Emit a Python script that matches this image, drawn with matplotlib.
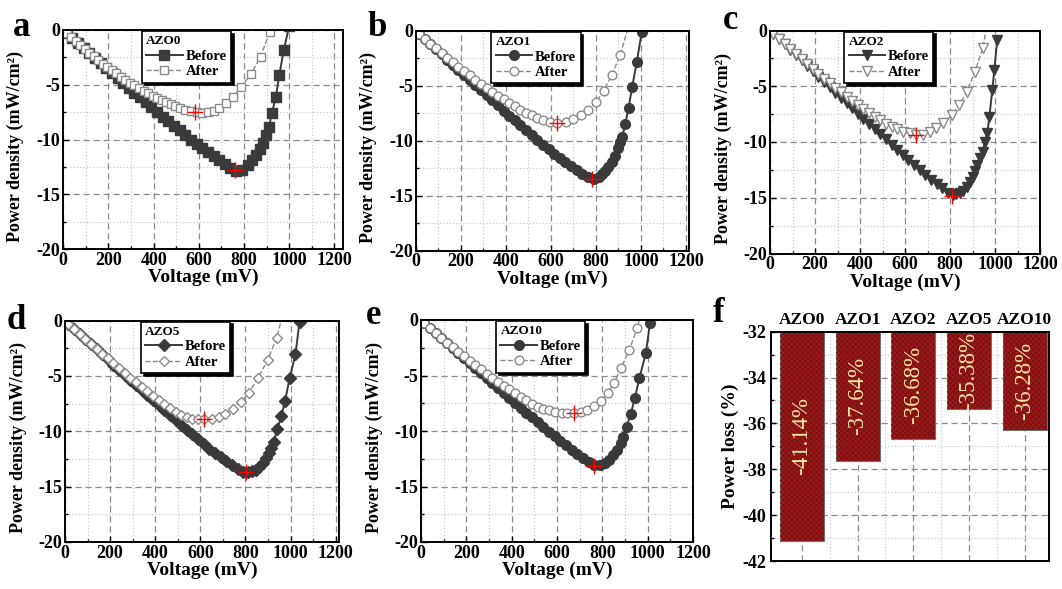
import numpy as np
import matplotlib.pyplot as plt
from matplotlib.ticker import MultipleLocator

plt.rcParams['font.family'] = ['Liberation Serif', 'DejaVu Serif']
plt.rcParams['font.weight'] = 'bold'
plt.rcParams['axes.labelweight'] = 'bold'
plt.rcParams['axes.unicode_minus'] = False
plt.rcParams['hatch.linewidth'] = 0.5

# voltage steps used for the dense part of the curves
v_dense = [15, 40, 65, 90, 115, 140, 165, 190, 215, 240, 265, 290, 315, 340, 365, 390,
           415, 440, 465, 490, 515, 540, 565, 590, 615, 640, 665, 690, 715, 740, 765, 790]

# a - AZO0
v_before_a = v_dense + [818, 837, 855, 870, 882, 897, 911, 923, 941, 956, 976, 1000]
p_before_a = [-0.27, -0.73, -1.18, -1.64, -2.09, -2.55, -3.00, -3.46, -3.91, -4.37,
              -4.82, -5.28, -5.72, -6.15, -6.60, -7.03, -7.47, -7.90, -8.32, -8.75,
              -9.17, -9.59, -10.00, -10.40, -10.79, -11.17, -11.54, -11.90, -12.24, -12.58,
              -12.85, -12.80,
              -12.33, -11.87, -11.40, -10.87, -10.35, -9.59, -8.83, -7.61, -6.09, -4.11, -1.83, 0.4]
v_after_a = [15, 35, 55, 75, 95, 115, 135, 155, 175, 195, 215, 235, 255, 275, 295, 315, 335,
             355, 375, 395, 415, 435, 455, 475, 495, 515, 540, 565, 590, 615, 640, 665, 690,
             719, 751, 788, 830, 873, 914]
p_after_a = [-0.28, -0.65, -1.03, -1.39, -1.74, -2.08, -2.42, -2.75, -3.07, -3.38,
             -3.68, -3.97, -4.25, -4.53, -4.80, -5.06, -5.31, -5.55, -5.79, -6.01,
             -6.22, -6.42, -6.61, -6.79, -6.95, -7.10,
             -7.27, -7.41, -7.50, -7.54, -7.50, -7.38, -7.12,
             -6.70, -6.09, -5.17, -4.05, -2.43, -0.15]

# b - AZO1
v_before_b = v_dense + [812, 826, 841, 856, 871, 886, 898, 908, 918, 930, 945, 961, 982, 1004]
p_before_b = [-0.28, -0.75, -1.22, -1.68, -2.15, -2.62, -3.09, -3.55, -4.02, -4.49,
              -4.96, -5.42, -5.88, -6.34, -6.80, -7.26, -7.71, -8.16, -8.60, -9.05,
              -9.49, -9.92, -10.35, -10.77, -11.18, -11.58, -11.97, -12.33, -12.67, -12.99,
              -13.31, -13.47,
              -13.32, -13.05, -12.80, -12.36, -11.90, -11.36, -10.70, -10.15, -9.64, -8.52,
              -7.06, -5.15, -2.82, -0.09]
v_after_b = v_dense[:23] + [597, 629, 668, 700, 733, 767, 801, 834, 871, 908, 945]
p_after_b = [-0.28, -0.73, -1.17, -1.60, -2.03, -2.44, -2.86, -3.26, -3.66, -4.05,
             -4.44, -4.82, -5.19, -5.55, -5.90, -6.24, -6.57, -6.88, -7.17, -7.45,
             -7.70, -7.93, -8.11,
             -8.30, -8.42, -8.27, -8.05, -7.66, -7.20, -6.50, -5.45, -4.03, -2.20, 0.4]

# c - AZO2
v_before_c = v_dense + [812, 828, 844, 859, 874, 889, 901, 911, 921, 933, 945, 956, 966, 975,
                        988, 997, 1010]
p_before_c = [-0.29, -0.77, -1.25, -1.73, -2.21, -2.69, -3.17, -3.65, -4.13, -4.61,
              -5.09, -5.57, -6.04, -6.51, -6.99, -7.46, -7.93, -8.39, -8.85, -9.31,
              -9.77, -10.23, -10.69, -11.15, -11.60, -12.05, -12.50, -12.94, -13.37, -13.78,
              -14.15, -14.54,
              -14.75, -14.70, -14.55, -14.37, -14.00, -13.56, -13.10, -12.60, -12.06, -11.47,
              -10.87, -9.97, -9.22, -7.73, -5.34, -3.54, -0.85]
v_after_c = v_dense[:23] + [592, 622, 649, 681, 709, 739, 770, 807, 842, 874, 911, 945, 965]
p_after_c = [-0.29, -0.76, -1.22, -1.68, -2.13, -2.57, -3.01, -3.45, -3.89, -4.31,
             -4.74, -5.15, -5.56, -5.96, -6.35, -6.72, -7.08, -7.42, -7.75, -8.06,
             -8.35, -8.62, -8.86,
             -9.07, -9.22, -9.33, -9.35, -9.13, -8.78, -8.33, -7.58, -6.68, -5.49, -3.69,
             -1.60, 0.5]

# d - AZO5
v_before_d = v_dense + [812, 828, 845, 862, 877, 892, 904, 914, 925, 942, 959, 976, 996, 1022, 1040]
p_before_d = [-0.28, -0.74, -1.20, -1.67, -2.13, -2.59, -3.05, -3.52, -3.98, -4.44,
              -4.90, -5.37, -5.82, -6.28, -6.73, -7.18, -7.63, -8.08, -8.52, -8.97,
              -9.41, -9.85, -10.28, -10.71, -11.14, -11.56, -11.96, -12.35, -12.73, -13.08,
              -13.40, -13.67,
              -13.70, -13.60, -13.48, -13.26, -12.87, -12.42, -11.97, -11.52, -10.98, -9.80,
              -8.66, -7.25, -5.21, -3.05, -0.10]
v_after_d = v_dense[:24] + [618, 652, 681, 711, 744, 781, 815, 855, 899, 939, 965]
p_after_d = [-0.28, -0.74, -1.20, -1.65, -2.10, -2.54, -2.98, -3.42, -3.85, -4.29,
             -4.72, -5.15, -5.57, -5.98, -6.39, -6.81, -7.20, -7.58, -7.93, -8.25,
             -8.52, -8.73, -8.85, -8.90,
             -8.90, -8.87, -8.75, -8.45, -8.00, -7.37, -6.56, -5.21, -3.56, -1.55, 0.5]

# e - AZO10
v_before_e = v_dense + [810, 831, 848, 866, 881, 893, 907, 925, 944, 963, 992, 1010]
p_before_e = [-0.27, -0.72, -1.18, -1.63, -2.08, -2.53, -2.99, -3.44, -3.89, -4.34,
              -4.80, -5.25, -5.70, -6.14, -6.58, -7.03, -7.47, -7.91, -8.35, -8.78,
              -9.21, -9.64, -10.06, -10.48, -10.90, -11.30, -11.70, -12.08, -12.44, -12.79,
              -13.10, -13.07,
              -12.85, -12.60, -12.16, -11.70, -11.10, -10.50, -9.60, -8.50, -7.00, -5.26,
              -3.00, -0.30]
v_after_e = v_dense[:23] + [593, 621, 645, 675, 704, 734, 763, 793, 823, 851, 882, 919, 954, 968]
p_after_e = [-0.27, -0.73, -1.17, -1.61, -2.04, -2.46, -2.87, -3.28, -3.68, -4.07,
             -4.45, -4.83, -5.20, -5.56, -5.91, -6.26, -6.60, -6.93, -7.24, -7.55,
             -7.80, -8.00, -8.15,
             -8.27, -8.35, -8.41, -8.41, -8.32, -8.11, -7.72, -7.30, -6.60, -5.70, -4.35,
             -2.70, -0.75, 0.5]

# maximum power points (red crosses), before / after
mpp_v_a, mpp_p_a = [759, 581], [-12.80, -7.52]
mpp_v_b, mpp_p_b = [782, 629], [-13.48, -8.42]
mpp_v_c, mpp_p_c = [807, 649], [-14.80, -9.35]
mpp_v_d, mpp_p_d = [803, 618], [-13.71, -8.87]
mpp_v_e, mpp_p_e = [763, 675], [-13.12, -8.41]

# f - power loss
samples = ['AZO0', 'AZO1', 'AZO2', 'AZO5', 'AZO10']
power_loss = [-41.14, -37.64, -36.68, -35.38, -36.28]

W, H = 1062, 589
fig = plt.figure(figsize=(W / 100, H / 100), dpi=100)


def box(l, t, r, b):
    return [l / W, 1 - b / H, (r - l) / W, (b - t) / H]


def grid_it(ax):
    ax.set_axisbelow(True)
    ax.grid(which='major', ls=(0, (5, 3)), color='#8a8a8a', lw=0.9)
    ax.grid(which='minor', ls=(0, (1, 2)), color='#c4c4c4', lw=0.8)
    for s in ax.spines.values():
        s.set_linewidth(1.4)


def panel(rect, xmax, vb, pb, va, pa, mk, msb, msa, name, mv, mp):
    ax = fig.add_axes(rect)
    grid_it(ax)
    ax.plot(vb, pb, '-', color='#3a3a3a', lw=1.4, marker=mk, ms=msb, mfc='#3a3a3a',
            mec='#3a3a3a', label='Before')
    ax.plot(va, pa, '--', color='#8a8a8a', lw=1.0, marker=mk, ms=msa, mfc='white',
            mec='#8a8a8a', mew=1.0, label='After')
    ax.plot(mv, mp, ls='none', marker='+', color='red', ms=12, mew=1.0)
    ax.set_xlim(0, xmax)
    ax.set_ylim(-20, 0)
    ax.set_xticks(range(0, 1201, 200))
    ax.xaxis.set_minor_locator(MultipleLocator(100))
    ax.yaxis.set_major_locator(MultipleLocator(5))
    ax.yaxis.set_minor_locator(MultipleLocator(2.5))
    ax.tick_params(which='both', direction='in', labelsize=13, width=1)
    ax.tick_params(which='major', length=4, pad=2)
    ax.tick_params(which='minor', length=2)
    ax.set_xlabel('Voltage (mV)', fontsize=14, labelpad=0)
    ax.set_ylabel('Power density (mW/cm²)', fontsize=13, labelpad=1)
    ax.yaxis.set_label_coords(-0.14, 0.47)
    leg = ax.legend(title=name, loc='upper center', bbox_to_anchor=(0.44, 0.995),
                    fontsize=10.5, title_fontsize=9.5, fancybox=False, edgecolor='black',
                    framealpha=1, shadow={'color': 'black', 'alpha': 1},
                    handlelength=2.5, borderpad=0.3, labelspacing=0.15,
                    handletextpad=0.2, borderaxespad=0, alignment='left')
    leg.get_frame().set_linewidth(1.2)
    leg.get_title().set_fontweight('bold')
    return ax


panel(box(63.3, 30, 343, 249), 1238, v_before_a, p_before_a, v_after_a, p_after_a,
      's', 6.5, 5.8, 'AZO0', mpp_v_a, mpp_p_a)
panel(box(415.7, 30.7, 689.3, 250.7), 1215, v_before_b, p_before_b, v_after_b, p_after_b,
      'o', 7, 6.3, 'AZO1', mpp_v_b, mpp_p_b)
panel(box(770, 30.5, 1040, 253.5), 1200, v_before_c, p_before_c, v_after_c, p_after_c,
      'v', 7.5, 7, 'AZO2', mpp_v_c, mpp_p_c)
panel(box(65, 320.5, 339, 542), 1215, v_before_d, p_before_d, v_after_d, p_after_d,
      'D', 6, 5.5, 'AZO5', mpp_v_d, mpp_p_d)
panel(box(421, 320, 693, 542), 1200, v_before_e, p_before_e, v_after_e, p_after_e,
      'o', 7, 6.3, 'AZO10', mpp_v_e, mpp_p_e)

# f - bar chart of power loss
ax = fig.add_axes(box(770.7, 331.7, 1049.3, 561))
grid_it(ax)
x = np.arange(len(samples))
heights = np.array(power_loss) + 32
ax.bar(x, heights, bottom=-32, width=0.79, color='#9c1818', edgecolor='#707070', lw=0.8, zorder=2)
ax.bar(x, heights, bottom=-32, width=0.79, color='none', edgecolor='#6a1010', lw=0,
       hatch='xxxxxx', zorder=2.1)
for xi, v in zip(x, power_loss):
    ax.text(xi, (v - 32) / 2, f'{v:.2f}%', rotation=90, ha='center', va='center',
            color='#f4e6a6', fontsize=16.5, fontweight='normal', zorder=3)
ax.set_xlim(-0.56, 4.44)
ax.set_ylim(-42, -32)
ax.set_xticks(x)
ax.set_xticklabels(samples)
ax.set_xticks([0.5, 1.5, 2.5, 3.5], minor=True)
ax.yaxis.set_major_locator(MultipleLocator(2))
ax.yaxis.set_minor_locator(MultipleLocator(1))
ax.xaxis.tick_top()
ax.tick_params(axis='x', which='both', length=0, labelsize=12.5, pad=3)
ax.tick_params(axis='y', which='both', direction='in', labelsize=13, width=1)
ax.tick_params(axis='y', which='minor', length=2)
ax.set_ylabel('Power loss (%)', fontsize=14, labelpad=2)

# panel letters
letters = [('a', 13, 36), ('b', 367, 36), ('c', 723, 29),
           ('d', 7, 329), ('e', 366, 324), ('f', 713, 322)]
for t, px, py in letters:
    fig.text(px / W, 1 - py / H, t, fontsize=25, fontweight='bold', va='baseline')

fig.savefig('out.png', dpi=100, facecolor='white')
